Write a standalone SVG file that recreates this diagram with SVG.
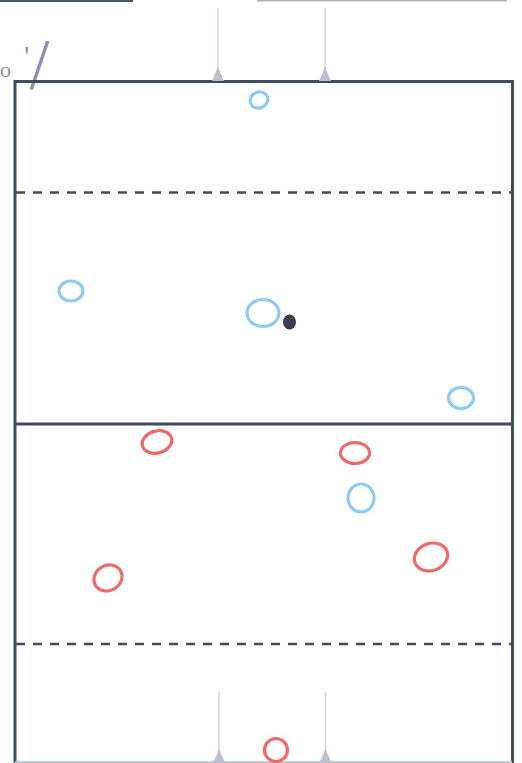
<svg xmlns="http://www.w3.org/2000/svg" width="522" height="763" viewBox="0 0 522 763">
<style>
.field{fill:none;stroke:#3f4b5f;stroke-width:3}
.dash{stroke:#3f4b5f;stroke-width:2.6;stroke-dasharray:9 8}
.post{stroke:#cfd3dc;stroke-width:1.5}
.tri{fill:#b9c1d1}
.blue{fill:none;stroke:#8fcaf0;stroke-width:3.2}
.red{fill:none;stroke:#f06868;stroke-width:3.2}
.hand{font-family:"Liberation Serif",serif;fill:#8a8fb0}
</style>
<rect width="522" height="763" fill="#ffffff"/>
<g id="edges-top">
<line x1="0" y1="0" x2="133" y2="0" stroke="#4a566a" stroke-width="4"/>
<line x1="257" y1="0" x2="507" y2="0" stroke="#a9b3c4" stroke-width="3"/>
</g>
<g id="handwriting">
<text class="hand" x="0" y="77" font-size="22">o</text>
<text class="hand" x="24" y="88"><tspan font-size="30" dy="-22">'</tspan><tspan font-size="72" dy="22">/</tspan></text>
</g>
<g id="field">
<path class="field" d="M15,763 V81.5 H512.5 V763"/>
<line class="dash" x1="16" y1="192.5" x2="512" y2="192.5"/>
<line class="field" x1="15" y1="424" x2="512" y2="424"/>
<line class="dash" x1="16" y1="644" x2="512" y2="644"/>
<line x1="15" y1="762" x2="512" y2="762" stroke="#c3c9d4" stroke-width="2"/>
</g>
<g id="goal-top">
<line class="post" x1="218" y1="8" x2="218" y2="76"/>
<line class="post" x1="325" y1="8" x2="325" y2="76"/>
<path class="tri" d="M218,67 L212,81 H224 Z"/>
<path class="tri" d="M325,67 L319,81 H331 Z"/>
</g>
<g id="goal-bottom">
<line class="post" x1="219" y1="692" x2="219" y2="758"/>
<line class="post" x1="325.5" y1="692" x2="325.5" y2="758"/>
<path class="tri" d="M219,749 L213,763 H225 Z"/>
<path class="tri" d="M325.5,749 L319.5,763 H331.5 Z"/>
</g>
<g id="blue-1"><ellipse class="blue" cx="259" cy="100" rx="9" ry="8" transform="rotate(-25 259 100)"/></g>
<g id="blue-2"><ellipse class="blue" cx="71" cy="291" rx="12" ry="10"/></g>
<g id="blue-3"><ellipse class="blue" cx="263" cy="313" rx="16" ry="13.5"/></g>
<g id="ball"><ellipse cx="289.5" cy="322" rx="6.5" ry="7.5" fill="#3a3f4e"/></g>
<g id="blue-4"><ellipse class="blue" cx="461" cy="398" rx="12.5" ry="10.5"/></g>
<g id="blue-5"><ellipse class="blue" cx="361" cy="498" rx="13" ry="14"/></g>
<g id="red-1"><ellipse class="red" cx="157" cy="442" rx="15" ry="11" transform="rotate(-15 157 442)"/></g>
<g id="red-2"><ellipse class="red" cx="355" cy="453" rx="14.5" ry="10.5"/></g>
<g id="red-3"><ellipse class="red" cx="108" cy="578" rx="14.5" ry="12.5" transform="rotate(-30 108 578)"/></g>
<g id="red-4"><ellipse class="red" cx="431" cy="557" rx="17" ry="13.5" transform="rotate(-20 431 557)"/></g>
<g id="red-5"><ellipse class="red" cx="276" cy="750" rx="11.5" ry="11.5"/></g>
</svg>
